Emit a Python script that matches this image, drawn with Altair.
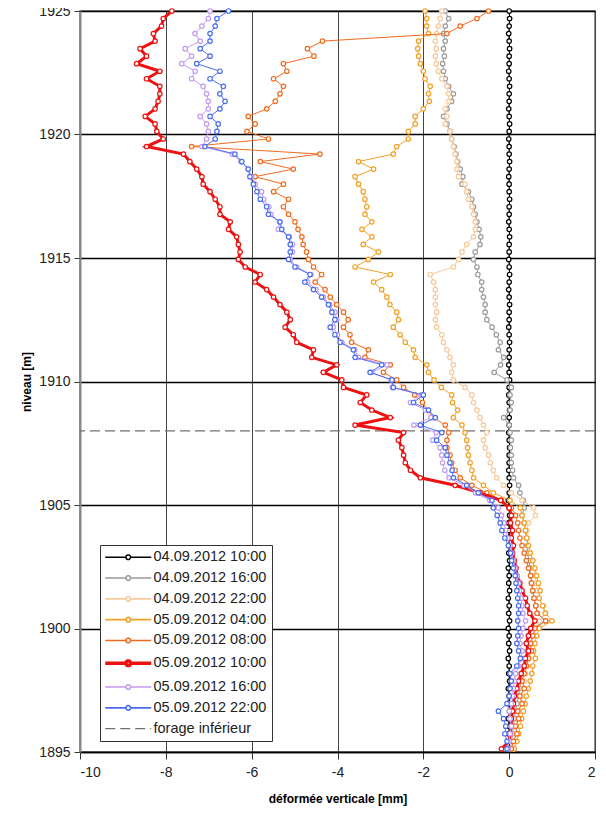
import altair as alt
import pandas as pd

# measuring stations: one every 0.3048 m, from 1925 m downwards
levels = [round(1925 - 0.3048 * k, 4) for k in range(99)]

names = ["04.09.2012 10:00", "04.09.2012 16:00", "04.09.2012 22:00", "05.09.2012 04:00",
         "05.09.2012 08:00", "05.09.2012 10:00", "05.09.2012 16:00", "05.09.2012 22:00"]
forage_name = "forage inférieur"
forage_level = 1908

s_0409_1000 = [0.00, 0.01, 0.00, -0.01, 0.00, 0.01, 0.00, 0.00, -0.01, 0.00,
               0.01, 0.00, 0.00, -0.01, 0.00, 0.01, 0.00, -0.01, 0.00, 0.00,
               0.01, 0.00, -0.01, 0.00, 0.00, 0.01, 0.00, 0.00, -0.01, 0.00,
               0.01, 0.00, 0.00, -0.01, 0.00, 0.01, 0.00, -0.01, 0.00, 0.01,
               0.00, 0.00, -0.01, 0.00, 0.01, 0.00, 0.00, -0.01, 0.00, 0.01,
               0.00, -0.01, 0.00, 0.01, 0.00, 0.00, -0.01, 0.00, 0.01, 0.00,
               0.00, -0.01, 0.00, 0.01, 0.00, -0.02, 0.00, 0.01, -0.01, 0.00,
               -0.02, 0.00, -0.01, 0.01, -0.02, 0.00, -0.01, 0.01, -0.02, 0.00,
               -0.01, 0.01, -0.02, 0.00, -0.01, 0.01, -0.02, 0.00, -0.01, 0.01,
               -0.02, 0.00, -0.01, 0.01, -0.02, 0.00, -0.01, 0.01, 0.00]

s_0409_1600 = [-1.49, -1.41, -1.49, -1.53, -1.49, -1.53, -1.51, -1.55, -1.53, -1.49,
               -1.41, -1.30, -1.34, -1.45, -1.53, -1.45, -1.38, -1.34, -1.28, -1.24,
               -1.20, -1.14, -1.08, -1.10, -0.95, -0.87, -0.83, -0.79, -0.75, -0.70,
               -0.66, -0.68, -0.79, -0.83, -0.75, -0.73, -0.64, -0.64, -0.60, -0.56,
               -0.56, -0.52, -0.40, -0.30, -0.21, -0.25, -0.13, -0.20, -0.35, -0.05,
               0.05, 0.02, 0.05, 0.02, -0.13, 0.00, 0.02, 0.05, 0.03, 0.05,
               0.05, 0.08, 0.10, 0.22, 0.25, 0.33, 0.35, 0.30, 0.35, 0.38,
               0.40, 0.43, 0.42, 0.47, 0.48, 0.50, 0.52, 0.55, 0.58, 0.62,
               0.66, 0.85, 0.55, 0.45, 0.40, 0.42, 0.38, 0.35, 0.30, 0.28,
               0.25, 0.22, 0.18, 0.15, 0.12, 0.10, 0.08, 0.05, 0.03]

s_0409_2200 = [-1.57, -1.61, -1.65, -1.69, -1.72, -1.70, -1.72, -1.70, -1.65, -1.57,
               -1.45, -1.41, -1.41, -1.49, -1.45, -1.49, -1.38, -1.34, -1.30, -1.26,
               -1.22, -1.22, -1.18, -1.03, -0.99, -0.95, -0.87, -0.83, -0.79, -0.79,
               -0.83, -0.99, -1.10, -1.18, -1.30, -1.84, -1.76, -1.72, -1.72, -1.72,
               -1.69, -1.72, -1.69, -1.57, -1.53, -1.45, -1.38, -1.30, -1.34, -1.30,
               -1.03, -0.87, -0.83, -0.75, -0.68, -0.60, -0.52, -0.60, -0.56, -0.48,
               -0.44, -0.37, -0.29, -0.13, 0.05, 0.30, 0.57, 0.61, 0.45, 0.41,
               0.42, 0.45, 0.50, 0.55, 0.58, 0.60, 0.62, 0.65, 0.70, 0.80,
               0.85, 0.70, 0.60, 0.55, 0.52, 0.48, 0.45, 0.42, 0.38, 0.35,
               0.32, 0.30, 0.28, 0.25, 0.22, 0.18, 0.15, 0.12, 0.10]

s_0509_0400 = [-1.96, -1.92, -1.92, -1.88, -2.11, -2.13, -2.11, -2.07, -2.00, -1.96,
               -1.84, -1.88, -1.86, -2.00, -2.19, -2.19, -2.35, -2.35, -2.62, -2.70,
               -3.51, -3.16, -3.59, -3.51, -3.40, -3.36, -3.32, -3.36, -3.20, -3.43,
               -3.20, -3.40, -3.05, -3.28, -3.59, -2.77, -3.16, -2.97, -2.85, -2.78,
               -2.62, -2.58, -2.70, -2.54, -2.42, -2.23, -2.19, -1.92, -1.88, -1.75,
               -1.58, -1.34, -1.32, -1.20, -1.30, -1.10, -1.03, -0.99, -0.97, -0.95,
               -0.91, -0.87, -0.83, -0.60, -0.37, 0.02, 0.26, 0.30, 0.35, 0.38,
               0.41, 0.45, 0.49, 0.55, 0.60, 0.64, 0.68, 0.72, 0.70, 0.78,
               0.84, 1.00, 0.70, 0.64, 0.60, 0.57, 0.61, 0.55, 0.53, 0.49,
               0.45, 0.40, 0.37, 0.33, 0.29, 0.26, 0.22, 0.18, 0.12]

s_0509_0800 = [-0.48, -0.75, -1.14, -1.45, -4.35, -4.70, -4.55, -5.26, -5.18, -5.49,
               -5.26, -5.34, -5.45, -5.65, -6.08, -5.92, -6.11, -5.61, -7.40, -4.41,
               -5.80, -5.03, -5.92, -5.26, -5.49, -5.14, -5.26, -5.14, -4.99, -4.92,
               -4.83, -4.80, -4.72, -4.68, -4.56, -4.37, -4.52, -4.29, -4.17, -4.02,
               -3.86, -3.75, -3.86, -3.71, -3.67, -3.28, -3.36, -2.77, -2.93, -2.62,
               -2.46, -2.20, -2.02, -1.90, -1.76, -1.49, -1.41, -1.45, -1.45, -1.38,
               -1.34, -1.26, -1.14, -0.87, -0.52, -0.18, 0.05, 0.15, 0.20, 0.22,
               0.25, 0.30, 0.35, 0.40, 0.45, 0.50, 0.52, 0.55, 0.58, 0.62,
               0.65, 0.85, 0.60, 0.55, 0.50, 0.52, 0.45, 0.40, 0.35, 0.30,
               0.35, 0.25, 0.30, 0.20, 0.22, 0.15, 0.18, 0.10, 0.05]

s_0509_1000 = [-7.86, -8.06, -8.10, -8.29, -8.25, -8.60, -8.45, -8.68, -8.14, -8.45,
               -8.14, -8.14, -8.18, -8.25, -8.48, -8.25, -8.21, -8.06, -8.45, -7.59,
               -7.44, -7.28, -7.16, -7.13, -6.97, -6.85, -6.74, -6.74, -6.50, -6.54,
               -6.35, -6.31, -6.27, -6.31, -6.15, -5.80, -5.92, -5.65, -5.49, -5.34,
               -5.18, -5.10, -5.22, -5.03, -4.95, -4.56, -4.60, -4.02, -4.33, -3.90,
               -3.86, -3.32, -3.47, -3.20, -2.77, -3.59, -2.46, -2.58, -2.50, -2.46,
               -2.42, -2.30, -2.07, -1.26, -0.68, -0.20, 0.00, 0.05, 0.03, 0.08,
               0.05, 0.10, 0.08, 0.12, 0.16, 0.18, 0.25, 0.30, 0.38, 0.42,
               0.48, 0.60, 0.50, 0.45, 0.40, 0.45, 0.38, 0.35, 0.28, 0.22,
               0.18, 0.12, 0.10, 0.08, 0.05, 0.05, 0.02, 0.00, -0.18]

s_0509_1600 = [-6.97, -7.01, -7.16, -7.32, -7.20, -7.55, -7.40, -7.63, -7.32, -7.40,
               -7.13, -7.05, -7.01, -7.01, -7.20, -7.05, -7.01, -7.05, -7.16, -6.45,
               -6.25, -6.08, -6.00, -5.92, -5.77, -5.72, -5.60, -5.55, -5.35, -5.38,
               -5.12, -5.05, -5.05, -5.10, -4.95, -4.62, -4.70, -4.50, -4.33, -4.18,
               -4.06, -4.02, -4.10, -4.00, -3.90, -3.60, -3.51, -2.85, -3.20, -2.75,
               -2.72, -2.05, -2.30, -1.95, -1.82, -2.22, -1.70, -1.78, -1.61, -1.57,
               -1.55, -1.50, -1.40, -1.05, -0.78, -0.45, -0.25, -0.18, -0.12, -0.08,
               -0.03, 0.02, 0.06, 0.10, 0.14, 0.18, 0.22, 0.24, 0.28, 0.30,
               0.32, 0.38, 0.32, 0.28, 0.25, 0.30, 0.28, 0.22, 0.15, 0.12,
               0.10, 0.08, 0.05, 0.00, 0.02, 0.05, 0.02, 0.00, -0.02]

s_0509_2200 = [-6.54, -6.81, -6.85, -6.97, -6.97, -7.20, -6.97, -7.28, -6.74, -6.97,
               -6.66, -6.74, -6.62, -6.74, -6.97, -6.78, -6.81, -6.85, -7.09, -6.39,
               -6.23, -6.08, -6.04, -5.96, -5.88, -5.80, -5.65, -5.61, -5.34, -5.30,
               -5.14, -5.10, -5.10, -5.14, -4.99, -4.64, -4.76, -4.56, -4.37, -4.21,
               -4.13, -4.06, -4.17, -4.06, -3.94, -3.63, -3.59, -2.97, -3.24, -2.73,
               -2.70, -2.00, -2.23, -1.88, -1.72, -2.07, -1.57, -1.69, -1.49, -1.45,
               -1.38, -1.33, -1.30, -0.99, -0.72, -0.40, -0.37, -0.28, -0.21, -0.17,
               -0.10, -0.02, 0.03, 0.06, 0.10, 0.14, 0.16, 0.18, 0.20, 0.22,
               0.22, 0.20, 0.22, 0.20, 0.18, 0.22, 0.26, 0.18, 0.02, 0.05,
               0.02, 0.00, -0.05, -0.25, -0.13, -0.08, -0.10, -0.05, -0.05]

series_values = [s_0409_1000, s_0409_1600, s_0409_2200, s_0509_0400,
                 s_0509_0800, s_0509_1000, s_0509_1600, s_0509_2200]
colors = ["#000000", "#9b9b9b", "#f8c99b", "#f3a126", "#f26b1e", "#ee1111", "#c39bf0", "#4a6ef2"]
line_widths = [1.0, 1.0, 1.0, 1.0, 1.0, 3.0, 1.0, 1.0]
legend_widths = [1.6, 1.6, 1.6, 1.6, 1.6, 3.6, 1.6, 1.6]
forage_color = "#707070"
forage_width = 1.3

x_ticks = [-10, -8, -6, -4, -2, 0, 2]
y_ticks = [1895, 1900, 1905, 1910, 1915, 1920, 1925]

FONT = "Liberation Sans"

# legend glyphs (unit = 5 px with symbolSize 100): line with a small open circle, plain line
path_pt = ("M-4.6,0L-0.46,0M0.46,0L4.6,0M-0.46,0"
           "A0.46,0.46,0,1,1,0.46,0A0.46,0.46,0,1,1,-0.46,0Z")
path_dash = "M-4.6,0L4.6,0"

all_names = names + [forage_name]

legend = alt.Legend(
    title=None, orient="none", legendX=20, legendY=534,
    fillColor="white", strokeColor="#333333", padding=5,
    labelFont=FONT, labelFontSize=14.5, labelColor="#222222",
    symbolSize=100, symbolOffset=16, labelOffset=18, rowPadding=5.8, labelLimit=300,
)

color_enc = alt.Color("serie:N",
                      scale=alt.Scale(domain=all_names, range=colors + [forage_color]),
                      legend=legend)
width_enc = alt.StrokeWidth("serie:N",
                            scale=alt.Scale(type="ordinal", domain=all_names,
                                            range=legend_widths + [forage_width]),
                            legend=legend)
dash_enc = alt.StrokeDash("serie:N",
                          scale=alt.Scale(domain=all_names, range=[[1, 0]] * 8 + [[10, 5]]),
                          legend=legend)
shape_enc = alt.Shape("serie:N",
                      scale=alt.Scale(domain=all_names, range=[path_pt] * 8 + [path_dash]),
                      legend=legend)

x_enc = alt.X("def:Q", scale=alt.Scale(domain=[-10, 2], nice=False, zero=False),
              axis=alt.Axis(values=x_ticks, title="déformée verticale [mm]",
                            grid=True, gridColor="#444444", gridWidth=1,
                            domainColor="#000000", domainWidth=1.5,
                            tickColor="#333333", tickSize=7,
                            labelFont=FONT, labelFontSize=14, labelColor="#222222", labelPadding=6,
                            labelExpr="replace(datum.label, '\u2212', '-')",
                            titleFont=FONT, titleFontSize=12, titleFontWeight="bold",
                            titleColor="#000000", titlePadding=14))
y_enc = alt.Y("niveau:Q", scale=alt.Scale(domain=[1895, 1925], nice=False, zero=False),
              axis=alt.Axis(values=y_ticks, title="niveau [m]", format="d",
                            grid=True, gridColor="#000000", gridWidth=1.3,
                            domainColor="#888888", domainWidth=2,
                            tickColor="#333333", tickSize=6,
                            labelFont=FONT, labelFontSize=14, labelColor="#222222", labelPadding=4,
                            titleFont=FONT, titleFontSize=12, titleFontWeight="bold",
                            titleColor="#000000", titlePadding=5))

layers = []
forage_df = pd.DataFrame({"serie": [forage_name], "niveau": [forage_level]})
layers.append(alt.Chart(forage_df).mark_rule().encode(
    y=y_enc, color=color_enc, strokeDash=dash_enc, strokeWidth=width_enc))

for name, vals, w in zip(names, series_values, line_widths):
    df = pd.DataFrame({"serie": name, "niveau": levels, "def": vals, "k": list(range(len(vals)))})
    base = alt.Chart(df)
    layers.append(base.mark_line(strokeWidth=w).encode(
        x=x_enc, y=y_enc, order="k:Q", color=color_enc))
    layers.append(base.mark_point(shape="circle", size=20, filled=False, fill="white",
                                  fillOpacity=1, strokeWidth=1.2, opacity=1).encode(
        x=x_enc, y=y_enc, color=color_enc))

# empty layer that only carries the legend glyph shapes
glyph_df = pd.DataFrame({"serie": pd.Series([], dtype=str), "niveau": pd.Series([], dtype=float),
                         "def": pd.Series([], dtype=float)})
layers.append(alt.Chart(glyph_df).mark_point(filled=False).encode(
    x=x_enc, y=y_enc, color=color_enc, shape=shape_enc, strokeWidth=width_enc))

chart = alt.layer(*layers).properties(
    width=515, height=741,
    autosize=alt.AutoSizeParams(type="none"),
    padding={"left": 72, "top": 3, "right": 3, "bottom": 60},
).configure_view(stroke="#6a6a6a", strokeWidth=1.5)

chart.save("out.html", embed_options={"renderer": "svg", "actions": False})
